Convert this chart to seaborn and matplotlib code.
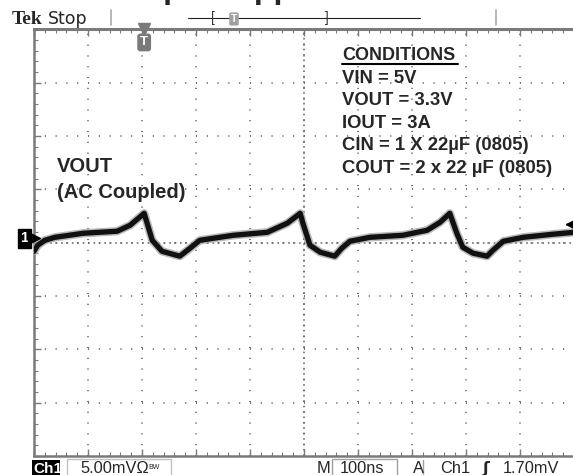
import numpy as np
import pandas as pd
import matplotlib
matplotlib.use('Agg')
import matplotlib.pyplot as plt
import seaborn as sns
from matplotlib.lines import Line2D
from matplotlib.patches import Rectangle

# scope trace: time (ns), VOUT ripple (mV, AC coupled)
time_ns = [0, 7, 20, 39, 91, 154, 178, 204, 209, 219,
           237, 270, 289, 307, 369, 432, 469, 493, 498, 511,
           530, 557, 570, 585, 622, 683, 728, 752, 770, 783,
           794, 813, 839, 850, 869, 906, 961, 1000]
vout_mv = [-0.80, -0.23, 0.23, 0.51, 0.89, 1.08, 1.64, 2.76, 1.92, 0.23,
           -0.80, -1.26, -0.51, 0.23, 0.70, 0.98, 1.83, 2.76, 1.83, -0.23,
           -0.89, -1.26, -0.51, 0.14, 0.51, 0.70, 1.17, 1.92, 2.76, 0.89,
           -0.42, -0.98, -1.26, -0.70, 0.14, 0.51, 0.80, 0.98]

conditions = ['VIN = 5V', 'VOUT = 3.3V', 'IOUT = 3A',
              'CIN = 1 X 22µF (0805)', 'COUT = 2 x 22 µF (0805)']

volts_div = 5       # mV/div
time_div = 100      # ns/div
trigger_ns = 204
trigger_mv = 1.70
ground_mv = 0.4

W, H = 573, 475
GREY = '#7a7a7a'


def fx(x):
    return x / W


def fy(y):
    return 1 - y / H


sns.set_style('white')
plt.rcParams['font.family'] = ['Liberation Sans', 'DejaVu Sans']

fig = plt.figure(figsize=(W / 100, H / 100), dpi=100)
ax = fig.add_axes([fx(34), fy(456), 540 / W, (456 - 29.5) / H])

df = pd.DataFrame({'t': time_ns, 'v': vout_mv})
sns.lineplot(data=df, x='t', y='v', ax=ax, color='#a8a8a8', lw=6.0, alpha=0.8, zorder=3)
sns.lineplot(data=df, x='t', y='v', ax=ax, color='#111111', lw=3.8, zorder=4)

ax.set_xlim(0, 10 * time_div)
ax.set_ylim(-4 * volts_div, 4 * volts_div)
ax.set_xticks(np.arange(0, 10 * time_div + 1, time_div))
ax.set_yticks(np.arange(-4 * volts_div, 4 * volts_div + 1, volts_div))
ax.set_xticks(np.arange(0, 10 * time_div + 1, time_div / 5), minor=True)
ax.set_yticks(np.arange(-4 * volts_div, 4 * volts_div + 1, volts_div / 5), minor=True)
ax.set_xticklabels([])
ax.set_yticklabels([])
ax.set_xlabel('')
ax.set_ylabel('')
ax.tick_params(which='both', direction='in', top=True, bottom=True, left=True, right=False, color=GREY)
ax.tick_params(which='major', length=5, width=1)
ax.tick_params(which='minor', length=3, width=0.8)
ax.grid(True, which='major', color='#666666', lw=1.3, linestyle=(0, (0.6, 5.38)))
ax.axhline(0, color='#666666', lw=1.1, ls=(0, (1.1, 2.44)), zorder=1)
ax.axvline(5 * time_div, color='#666666', lw=1.1, ls=(0, (1.1, 2.44)), zorder=1)

for side in ['left', 'bottom']:
    ax.spines[side].set_color(GREY)
    ax.spines[side].set_linewidth(1.8)
ax.spines['top'].set_color(GREY)
ax.spines['top'].set_linewidth(2.2)
ax.spines['right'].set_visible(False)

# channel 1 ground marker
ax.plot([0], [ground_mv], marker='>', color='black', ms=8, clip_on=False, zorder=6,
        transform=ax.transData)
ax.annotate('1', xy=(0, ground_mv), xytext=(-4, 0), textcoords='offset points',
            ha='right', va='center', color='white', weight='bold', fontsize=10.5,
            bbox=dict(boxstyle='square,pad=0.18', fc='black', ec='black'),
            annotation_clip=False)

# trigger position marker
ax.plot([trigger_ns], [4 * volts_div], marker='v', color=GREY, ms=8, clip_on=False, zorder=6)
ax.annotate('T', xy=(trigger_ns, 4 * volts_div), xytext=(0, -5), textcoords='offset points',
            ha='center', va='top', color='white', weight='bold', fontsize=9.5,
            bbox=dict(boxstyle='round,pad=0.22', fc=GREY, ec='none'))

# trigger level arrow
ax.annotate('', xy=(978, trigger_mv), xytext=(1000, trigger_mv),
            arrowprops=dict(arrowstyle='-|>', color='black', lw=1.5, mutation_scale=12),
            annotation_clip=False)

# header
fig.text(fx(108), fy(-2), 'Output Ripple', weight='bold', size=23, va='baseline')
fig.text(fx(12), fy(24), 'Tek', family='Liberation Serif', weight='bold', size=14, va='baseline')
fig.text(fx(48), fy(24), 'Stop', family='DejaVu Sans', size=12.5, va='baseline')
fig.add_artist(Line2D([fx(111), fx(111)], [fy(10), fy(25)], color='#aaaaaa', lw=1.2))
fig.add_artist(Line2D([fx(496), fx(496)], [fy(10), fy(25)], color='#aaaaaa', lw=1.2))
fig.add_artist(Line2D([fx(188), fx(420)], [fy(18), fy(18)], color='#222222', lw=0.8))
fig.text(fx(213), fy(18), '[', size=10, ha='center', va='center', color='#333333')
fig.text(fx(327), fy(18), ']', size=10, ha='center', va='center', color='#333333')
fig.text(fx(234), fy(19), 'T', size=7.5, weight='bold', ha='center', va='center', color='white',
         bbox=dict(boxstyle='round,pad=0.15', fc='#a0a0a0', ec='none'))

# annotations on the screen
fig.text(fx(57), fy(172.5), 'VOUT', weight='bold', size=14.5, va='baseline')
fig.text(fx(57), fy(198), '(AC Coupled)', weight='bold', size=14.5, va='baseline')
fig.text(fx(342), fy(60), 'CONDITIONS', weight='bold', size=13, va='baseline')
fig.add_artist(Line2D([fx(342), fx(458)], [fy(63.5), fy(63.5)], color='black', lw=1.5))
for i, line in enumerate(conditions):
    fig.text(fx(342), fy(82.6 + 22.6 * i), line, weight='bold', size=13.3, va='baseline')

# status bar
fig.patches.append(Rectangle((fx(32), fy(476)), 28 / W, 16 / H, transform=fig.transFigure,
                             fc='black', ec='none'))
fig.text(fx(33), fy(473), 'Ch1', color='white', weight='bold', size=11, va='baseline')
fig.patches.append(Rectangle((fx(67), fy(477)), 104 / W, 18 / H, transform=fig.transFigure,
                             fill=False, ec='#c0c0c0', lw=1))
fig.text(fx(80), fy(473), '5.00mVΩ', size=11.8, va='baseline')
fig.text(fx(148), fy(469), 'BW', size=5, va='baseline')
fig.text(fx(317), fy(473), 'M', size=11.8, va='baseline')
fig.patches.append(Rectangle((fx(332), fy(477)), 65 / W, 18 / H, transform=fig.transFigure,
                             fill=False, ec='#a0a0a0', lw=1))
fig.text(fx(340), fy(473), '100ns', size=11.8, va='baseline')
fig.text(fx(413), fy(473), 'A', size=11.8, va='baseline')
fig.add_artist(Line2D([fx(423), fx(423)], [fy(460), fy(475)], color='#a0a0a0', lw=1))
fig.text(fx(440), fy(473), 'Ch1', size=11.8, va='baseline')
fig.text(fx(483), fy(473), 'ʃ', size=11.5, weight='bold', family=['DejaVu Sans'], va='baseline')
fig.text(fx(503), fy(473), '1.70mV', size=11.8, va='baseline')

fig.savefig('out.png', dpi=100)
